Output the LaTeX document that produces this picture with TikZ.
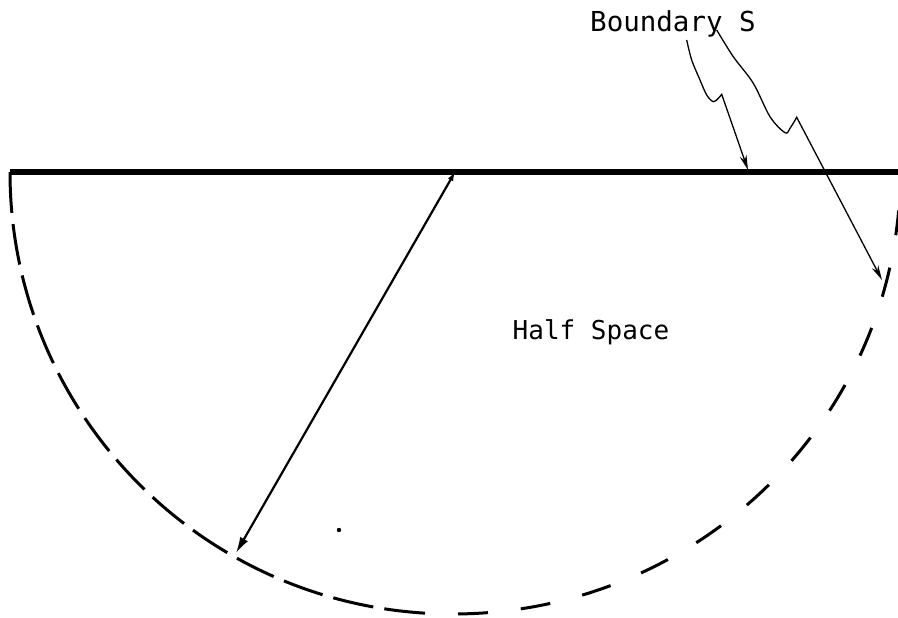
\documentclass[tikz,border=0pt]{standalone}
\usepackage{fontspec}
\setmonofont{DejaVu Sans Mono}
\usepackage{tikz}
\usetikzlibrary{arrows.meta}

\tikzset{
    surface/.style={line width=5.5pt},
    rim/.style={line width=3pt},
    radius line/.style={line width=2.2pt, {Latex[length=9pt,width=6pt]}-{Latex[length=16pt,width=9pt]}},
    leader/.style={line width=1.3pt, -{Stealth[length=15pt,width=7pt]}},
    label/.style={font=\ttfamily\fontsize{26}{30}\selectfont, anchor=base, inner sep=0pt}
}

\begin{document}
\begin{tikzpicture}[x=1pt,y=-1pt]
            \useasboundingbox (0,0) rectangle (898,618);

            % Boundary line and dashed half circle
            \coordinate (west) at (10,172);
            \coordinate (east) at (898,172);
            \draw[surface] (west) -- (east);
            \draw[rim, dash pattern=on 41pt off 11.2pt] (west) arc[start angle=180, end angle=93.5, radius=442] coordinate (bottom);
            \draw[rim, dash pattern=on 30pt off 33pt, dash phase=30pt] (bottom) arc[start angle=93.5, end angle=5, x radius=448, y radius=442];

            % Radius
            \coordinate (centre) at (455,172);
            \coordinate (rimpt) at (236,553);
            \draw[radius line] (centre) -- (rimpt);
            \fill (339,530) circle (2.2);

            % Labels
            \node[label] (halfspace) at (591,339) {Half Space};
            \node[label, font=\ttfamily\fontsize{27.5}{30}\selectfont] (bndry) at (673,32) {Boundary S};

            % Wavy leaders
            \coordinate (s1) at (748,170);
            \coordinate (s2) at (882,280);
            \draw[leader] plot[smooth, tension=0.55] coordinates {
                (686.7,40) (691.7,60) (700,80) (706.7,95) (713.3,101.7) (718.3,98.3) (721.7,94.3)}
                -- (s1);
            \draw[leader] plot[smooth, tension=0.55] coordinates {
                (716.7,30) (733.3,56.7) (753.3,83.3) (770,116.7) (785,132.7) (790,128.3) (796.7,117.3)}
                -- (s2);
\end{tikzpicture}
\end{document}
